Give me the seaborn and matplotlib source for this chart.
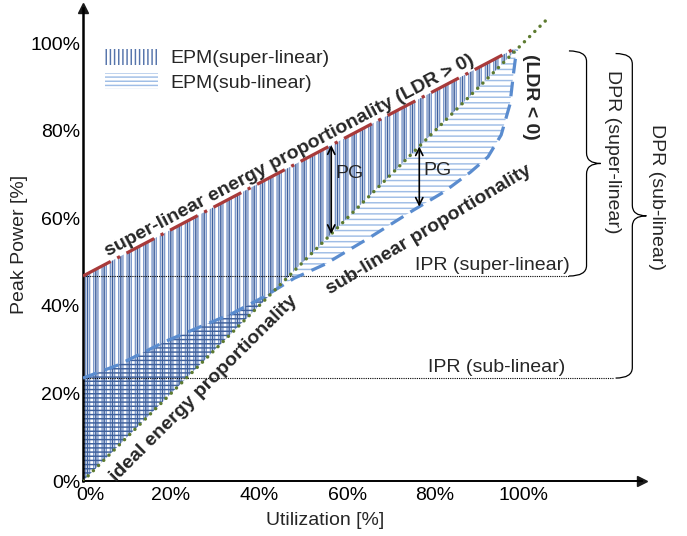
import numpy as np
import matplotlib
matplotlib.use("Agg")
import matplotlib.pyplot as plt
import seaborn as sns
from matplotlib.patches import Patch, PathPatch
from matplotlib.path import Path
from matplotlib.transforms import ScaledTranslation

# ---------------- data ----------------
util_ideal = [0, 105.5]
power_ideal = [0, 105.5]
util_super = [0, 98]
power_super = [46.8, 98.7]
util_sub = [0, 8, 19, 34, 41, 48, 55, 65, 75, 82, 88, 92, 95, 97, 97.8, 98.5]
power_sub = [23.5, 26.5, 32, 38.3, 42, 46.3, 49.5, 55.5, 61.8, 66, 70.5, 74, 79, 86, 93, 98.5]
ipr_levels = [46.8, 23.5]
ipr_labels = ["IPR (super-linear)", "IPR (sub-linear)"]
pg_util = [56.4, 76.4]
x_ticks = [0, 20, 40, 60, 80, 100]
y_ticks = [0, 20, 40, 60, 80, 100]
x_tick_labels = ["0%", "20%", "40%", "60%", "80%", "100%"]
y_tick_labels = ["0%", "20%", "40%", "60%", "80%", "100%"]
legend_labels = ["EPM(super-linear)", "EPM(sub-linear)"]

# ---------------- style ----------------
sns.set_theme(style="white")
plt.rcParams["font.family"] = ["Liberation Sans", "DejaVu Sans"]
plt.rcParams["hatch.linewidth"] = 1.05
FS = 14
BFS = 14

DARK = "#3d5f9c"
MID = "#7d9acb"
LEG = "#5574ab"
LIGHT = "#9fbde6"
RED = "#a83a3a"
SUBBLUE = "#5a8ccf"
GREEN = "#5d7b30"

fig = plt.figure(figsize=(6.87, 5.36), dpi=100)
ax = fig.add_axes([0.1208, 0.1026, 0.8137, 0.8825])
ax.set_xlim(0, 127)
ax.set_ylim(0, 108)

# ---------------- hatched regions ----------------
xv = np.linspace(0, util_super[-1], 400)
sup_i = np.interp(xv, util_super, power_super)
ideal_v = np.interp(xv, util_ideal, power_ideal)
ax.fill_between(xv, ideal_v, sup_i, facecolor="none", edgecolor=MID, hatch="||||", lw=0, zorder=1)
ax.fill_between(xv, ideal_v, sup_i, facecolor="none", edgecolor=DARK, hatch="||", lw=0, zorder=1.1)

xs = np.linspace(0, util_sub[-1], 800)
sub_i = np.interp(xs, util_sub, power_sub)
ideal_s = np.interp(xs, util_ideal, power_ideal)
ax.fill_between(xs, ideal_s, sub_i, where=sub_i >= ideal_s, interpolate=True,
                facecolor="none", edgecolor=DARK, hatch="----", lw=0, zorder=1.2)
ax.fill_between(xs, sub_i, ideal_s, where=sub_i <= ideal_s, interpolate=True,
                facecolor="none", edgecolor=LIGHT, hatch="---", lw=0, zorder=1.2)

# ---------------- curves ----------------
sns.lineplot(x=util_super, y=power_super, ax=ax, estimator=None, sort=False, color=RED, lw=2.3)
l_sup = ax.lines[-1]
l_sup.set_linestyle((0, (9.8, 2.3, 1.0, 2.3)))
l_sup.set_zorder(3)

sns.lineplot(x=util_sub, y=power_sub, ax=ax, estimator=None, sort=False, color=SUBBLUE, lw=2.3)
l_sub = ax.lines[-1]
l_sub.set_linestyle((0, (4.6, 2.6)))
l_sub.set_zorder(3)

sns.lineplot(x=util_ideal, y=power_ideal, ax=ax, estimator=None, sort=False, color=GREEN, lw=2.5)
l_id = ax.lines[-1]
l_id.set_linestyle((0, (0.01, 2.1)))
l_id.set_dash_capstyle("round")
l_id.set_zorder(4)

# ---------------- IPR lines ----------------
ipr_ends = [110.5, 120.5]
ipr_text_right = [110.5, 109.6]
for lvl, lab, xe, xt in zip(ipr_levels, ipr_labels, ipr_ends, ipr_text_right):
    ax.plot([0, xe], [lvl, lvl], color="black", lw=0.8, ls=(0, (1, 1)), clip_on=False, zorder=2)
    ax.text(xt, lvl + 0.5, lab, ha="right", va="bottom", fontsize=FS, zorder=5)

# ---------------- braces ----------------
def brace(x0, ybot, ytop, w1, w2, r=2.4):
    x1 = x0 + w1
    x2 = x1 + w2
    ym = (ybot + ytop) / 2
    verts = [(x0, ytop), (x1, ytop), (x1, ytop - r),
             (x1, ym + r), (x1, ym), (x2, ym),
             (x1, ym), (x1, ym - r),
             (x1, ybot + r), (x1, ybot), (x0, ybot)]
    codes = [Path.MOVETO, Path.CURVE3, Path.CURVE3,
             Path.LINETO, Path.CURVE3, Path.CURVE3,
             Path.CURVE3, Path.CURVE3,
             Path.LINETO, Path.CURVE3, Path.CURVE3]
    p = PathPatch(Path(verts, codes), facecolor="none", edgecolor="black", lw=0.9, clip_on=False)
    ax.add_patch(p)

brace(110.4, ipr_levels[0], 98.2, 4.0, 3.2)
brace(121.0, ipr_levels[1], 97.6, 3.8, 3.2)
ax.text(120.2, (ipr_levels[0] + 98.2) / 2 + 2.6, "DPR (super-linear)", rotation=270,
        ha="center", va="center", fontsize=FS, clip_on=False)
ax.text(130.3, (ipr_levels[1] + 97.6) / 2 + 4.2, "DPR (sub-linear)", rotation=270,
        ha="center", va="center", fontsize=FS, clip_on=False)

# ---------------- PG arrows ----------------
pg_low = [np.interp(pg_util[0], util_ideal, power_ideal), np.interp(pg_util[1], util_sub, power_sub)]
pg_high = [np.interp(pg_util[0], util_super, power_super), np.interp(pg_util[1], util_ideal, power_ideal)]
for xp, lo, hi in zip(pg_util, pg_low, pg_high):
    ax.annotate("", xy=(xp, hi), xytext=(xp, lo),
                arrowprops=dict(arrowstyle="<->", lw=1.2, color="black",
                                shrinkA=0, shrinkB=0, mutation_scale=13), zorder=6)
ax.text(pg_util[0] + 0.9, 70.1, "PG", ha="left", va="center", fontsize=FS, zorder=6)
ax.text(pg_util[1] + 0.9, 70.8, "PG", ha="left", va="center", fontsize=FS, zorder=6)

# ---------------- rotated labels ----------------
def screen_angle(x0, y0, x1, y1):
    p0 = ax.transData.transform((x0, y0))
    p1 = ax.transData.transform((x1, y1))
    return np.degrees(np.arctan2(p1[1] - p0[1], p1[0] - p0[0]))

a_sup = screen_angle(util_super[0], power_super[0], util_super[-1], power_super[-1])
a_id = screen_angle(0, 0, 100, 100)
ax.text(47.4, 73.4, "super-linear energy proportionality (LDR > 0)", rotation=a_sup,
        rotation_mode="anchor", ha="center", va="baseline", fontsize=BFS,
        fontweight="bold", zorder=6)
ax.text(79.2, 56.4, "sub-linear proportionality", rotation=31,
        rotation_mode="anchor", ha="center", va="baseline", fontsize=BFS,
        fontweight="bold", zorder=6)
ax.text(28.2, 20.4, "ideal energy proportionality", rotation=a_id,
        rotation_mode="anchor", ha="center", va="baseline", fontsize=BFS,
        fontweight="bold", zorder=6)
ax.text(101.6, 87.8, "(LDR < 0)", rotation=270, ha="center", va="center",
        fontsize=BFS, fontweight="bold", zorder=6)

# ---------------- axes ----------------
for s in ["top", "right"]:
    ax.spines[s].set_visible(False)
ax.spines["left"].set_linewidth(1.8)
ax.spines["bottom"].set_linewidth(1.4)
ax.spines["left"].set_color("black")
ax.spines["bottom"].set_color("black")
ax.plot(1, 0, ">k", transform=ax.transAxes, clip_on=False, ms=7)
ax.plot(0, 1, "^k", transform=ax.transAxes, clip_on=False, ms=7)

ax.set_xticks(x_ticks)
ax.set_xticklabels(x_tick_labels)
ax.set_yticks(y_ticks)
ax.set_yticklabels(y_tick_labels)
ax.tick_params(axis="both", direction="in", length=6, width=1.0, colors="black", labelsize=FS)
ax.tick_params(axis="x", pad=4)
ax.tick_params(axis="y", pad=2)
first = ax.get_xticklabels()[0]
first.set_transform(first.get_transform() + ScaledTranslation(0.07, 0, fig.dpi_scale_trans))
ax.set_xlabel("Utilization [%]", fontsize=FS)
ax.set_ylabel("Peak Power [%]", fontsize=FS)
ax.xaxis.set_label_coords(0.433, -0.066)
ax.yaxis.set_label_coords(-0.098, 0.5)
ax.grid(False)

# ---------------- legend ----------------
h1 = Patch(facecolor="none", edgecolor=LEG, hatch="||||", lw=0)
h2 = Patch(facecolor="none", edgecolor=LIGHT, hatch="----", lw=0)
ax.legend([h1, h2], legend_labels,
          loc="upper left", bbox_to_anchor=(0.039, 0.914), frameon=False,
          fontsize=FS, handlelength=2.75, handleheight=0.9, handletextpad=0.6,
          labelspacing=0.3, borderaxespad=0, borderpad=0)

fig.savefig("out.png", dpi=100)
